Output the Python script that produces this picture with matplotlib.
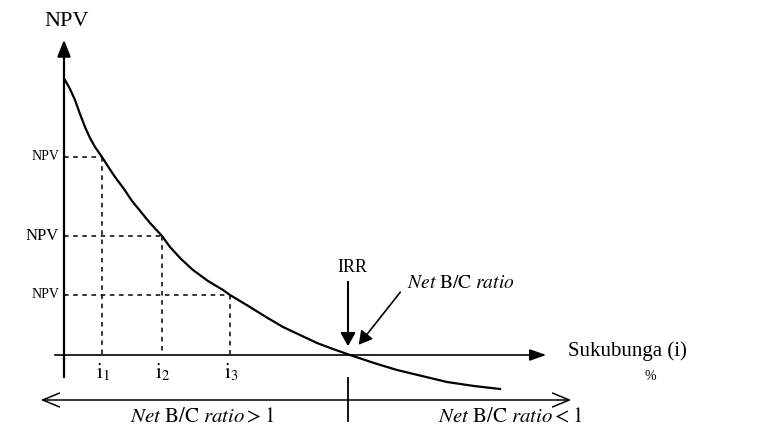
import matplotlib
matplotlib.use("Agg")
import matplotlib.pyplot as plt

plt.rcParams['font.family'] = ['Liberation Serif', 'DejaVu Serif']
plt.rcParams['mathtext.fontset'] = 'stix'

# NPV curve (interest rate vs NPV, arbitrary units)
rate = [1, 6, 11, 16, 21, 26, 31, 38, 45, 51, 60, 68, 77, 86, 98, 106, 117, 129, 144, 159, 166,
        186, 202, 219, 236, 253, 269, 286, 310, 333, 358, 383, 410, 436]
npv = [275, 266, 255, 241, 228, 217, 208, 198, 187, 178, 166, 154, 143, 132, 119, 108, 96, 85, 74, 65, 60,
       48, 38, 28, 20, 12, 6, 0, -8, -15, -21, -27, -31, -34]

# marked rates i1, i2, i3 and their NPV values
mark_rate = [38, 98, 166]
mark_npv = [198, 119, 60]
mark_labels = ['$\\mathrm{i}_1$', '$\\mathrm{i}_2$', '$\\mathrm{i}_3$']
npv_sizes = [10, 12, 10]

irr = 285

fig = plt.figure(figsize=(7.68, 4.32), dpi=100)
ax = fig.add_axes([0, 0, 1, 1])
ax.set_xlim(-64, 704)
ax.set_ylim(-77, 355)
ax.axis('off')

# axes with arrows
ax.annotate('', xy=(0, 318), xytext=(0, -25),
            arrowprops=dict(arrowstyle='-|>,head_length=1.0,head_width=0.4', color='black', lw=1.6))
ax.annotate('', xy=(485, 0), xytext=(-12, 0),
            arrowprops=dict(arrowstyle='-|>,head_length=1.0,head_width=0.35', color='black', lw=1.2))
ax.text(3, 334, 'NPV', fontsize=16, ha='center', va='center')
ax.text(504, 4, 'Sukubunga (i)', fontsize=15, ha='left', va='center')
ax.text(586, -22, '%', fontsize=10, ha='center', va='center')

# curve
ax.plot(rate, npv, color='black', lw=1.6, solid_joinstyle='round')

# dashed guides
for r, v, lab, fs in zip(mark_rate, mark_npv, mark_labels, npv_sizes):
    ax.plot([0, r], [v, v], color='black', lw=1.1, ls=(0, (3, 3)))
    ax.plot([r, r], [v, 0], color='black', lw=1.1, ls=(0, (3, 3)))
    ax.text(-5, v, 'NPV', fontsize=fs, ha='right', va='center')
    ax.text(r + 1, -17, lab, fontsize=15, ha='center', va='center')

# IRR marker
ax.text(irr + 3, 88, 'IRR', fontsize=13, ha='center', va='center')
ax.annotate('', xy=(irr - 1, 6), xytext=(irr - 1, 76),
            arrowprops=dict(arrowstyle='-|>,head_length=0.8,head_width=0.45', color='black', lw=1.5))
ax.annotate('', xy=(irr + 8, 8), xytext=(338, 65),
            arrowprops=dict(arrowstyle='-|>,head_length=0.8,head_width=0.45', color='black', lw=1.2))
ax.text(343, 72, r'$\mathit{Net}\ \mathrm{B/C}\ \mathit{ratio}$', fontsize=14, ha='left', va='center')

# bottom range arrow
ax.annotate('', xy=(-26, -45), xytext=(510, -45),
            arrowprops=dict(arrowstyle='<->,head_length=1.2,head_width=0.5', color='black', lw=1.1))
ax.plot([irr - 1, irr - 1], [-23, -66], color='black', lw=1.3)
ax.text(138, -63, r'$\mathit{Net}\ \mathrm{B/C}\ \mathit{ratio} > 1$', fontsize=15, ha='center', va='center')
ax.text(446, -63, r'$\mathit{Net}\ \mathrm{B/C}\ \mathit{ratio} < 1$', fontsize=15, ha='center', va='center')

fig.savefig('out.png', dpi=100, facecolor='white')
